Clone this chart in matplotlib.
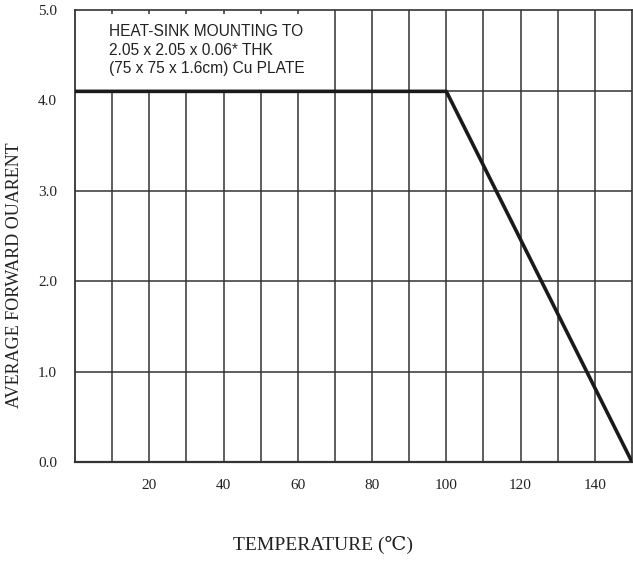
import matplotlib
matplotlib.use("Agg")
import matplotlib.pyplot as plt
from matplotlib.patches import Rectangle

# Data
temperature = [0, 100, 150]
current = [4.1, 4.1, 0.0]
x_ticks = [20, 40, 60, 80, 100, 120, 140]
y_ticks = [0.0, 1.0, 2.0, 3.0, 4.0, 5.0]
h_grid = [1.0, 2.0, 3.0, 4.1]
v_grid = list(range(10, 150, 10))
note_lines = ["HEAT-SINK MOUNTING TO", "2.05 x 2.05 x 0.06* THK", "(75 x 75 x 1.6cm) Cu PLATE"]

serif = ['Liberation Serif', 'DejaVu Serif']
sans = ['Liberation Sans', 'DejaVu Sans']

fig = plt.figure(figsize=(6.33, 5.75), dpi=100)
ax = fig.add_axes([75/633, 113/575, 557/633, 452/575])
ax.set_xlim(0, 150)
ax.set_ylim(0, 5)

gc = '#333333'
for v in v_grid:
    ax.axvline(v, color=gc, lw=1.1, zorder=1)
for h in h_grid:
    ax.axhline(h, color=gc, lw=1.1, zorder=1)

# white box behind note
ax.add_patch(Rectangle((0, 4.1), 67, 0.855, facecolor='white', edgecolor='none', zorder=2))

ax.plot(temperature, current, color='#1a1a1a', lw=2.6, zorder=3, solid_capstyle='butt')

for i, line in enumerate(note_lines):
    ax.text(9.2, 4.757 - i*0.2, line, family=sans, fontsize=11.2, color='#222222',
            va='center', ha='left', zorder=4)

ax.set_xticks(x_ticks)
ax.set_xticklabels([str(t) for t in x_ticks], family=serif, fontsize=11)
ax.set_yticks(y_ticks)
ax.set_yticklabels([f"{t:.1f}" for t in y_ticks], family=serif, fontsize=11)
ax.tick_params(length=0, pad=12, colors='#222222')
ax.tick_params(axis='y', pad=13)

for s in ax.spines.values():
    s.set_color('#333333')
    s.set_linewidth(1.2)
ax.spines['bottom'].set_linewidth(1.6)
ax.spines['left'].set_linewidth(1.3)

fig.text(15/633, 1 - 275/575, "AVERAGE FORWARD OUARENT", family=serif, fontsize=13,
         rotation=90, ha='center', va='center', color='#222222')
fig.text(323/633, 1 - 545/575, "TEMPERATURE (\u2103)", family=serif, fontsize=14,
         ha='center', va='center', color='#222222')

fig.savefig("out.png", dpi=100)
